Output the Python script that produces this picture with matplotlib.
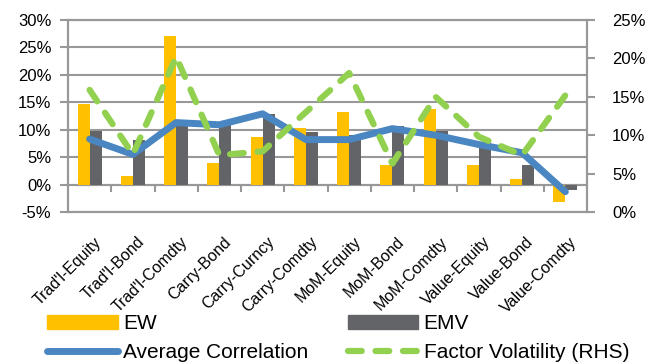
import matplotlib
matplotlib.use('Agg')
import numpy as np
import matplotlib.pyplot as plt
import matplotlib.transforms as mtransforms
from matplotlib.lines import Line2D
from matplotlib.patches import Patch
from matplotlib.ticker import FuncFormatter

plt.rcParams['font.family'] = ['Liberation Sans', 'DejaVu Sans']

categories = ["Trad'l-Equity", "Trad'l-Bond", "Trad'l-Comdty", "Carry-Bond", "Carry-Curncy",
              "Carry-Comdty", "MoM-Equity", "MoM-Bond", "MoM-Comdty", "Value-Equity",
              "Value-Bond", "Value-Comdty"]
ew = [14.7, 1.5, 27.1, 4.0, 8.6, 10.4, 13.2, 3.6, 13.8, 3.6, 1.1, -3.1]
emv = [9.8, 8.2, 10.6, 10.9, 12.8, 9.6, 9.0, 10.7, 9.7, 7.8, 3.6, -1.0]
avg_corr = [8.3, 5.5, 11.3, 10.9, 12.9, 8.2, 8.2, 10.2, 9.0, 7.3, 5.8, -1.3]
factor_vol = [15.9, 7.5, 20.2, 7.4, 7.9, 13.0, 18.1, 6.3, 15.0, 9.8, 7.4, 15.2]

GRID = '#989898'
x = np.arange(len(categories))
w = 0.277

fig = plt.figure(figsize=(6.51, 3.64), dpi=100)
ax = fig.add_axes([68 / 651, 1 - 212 / 364, (587 - 68) / 651, 192 / 364])
ax.bar(x - w / 2, ew, width=w, color='#FFC000', zorder=2)
ax.bar(x + w / 2, emv, width=w, color='#636467', zorder=2)
ax.plot(x, avg_corr, color='#4A86C1', lw=5, solid_capstyle='round', solid_joinstyle='round', zorder=3)

ax.set_xlim(-0.5, 11.5)
ax.set_ylim(-5, 30)
ax.set_yticks(np.arange(-5, 31, 5))
ax.yaxis.set_major_formatter(FuncFormatter(lambda v, p: f'{v:.0f}%'))
ax.grid(axis='y', color=GRID, lw=1.5, zorder=0)
ax.set_axisbelow(True)
ax.tick_params(axis='y', length=6, width=1.5, color=GRID, labelsize=12, pad=6)
ax.set_xticks(x)
ax.set_xticklabels(categories, rotation=45, ha='right', va='top', rotation_mode='anchor', fontsize=11.5)
ax.tick_params(axis='x', length=0, pad=16)
shift = mtransforms.ScaledTranslation(4 / 100, 0, fig.dpi_scale_trans)
for lab in ax.get_xticklabels():
    lab.set_transform(lab.get_transform() + shift)
for s in ax.spines.values():
    s.set_color(GRID)
    s.set_linewidth(1.5)

# category axis crossing at 0%
sec = ax.secondary_xaxis(5 / 35)
sec.set_xticks(np.arange(0.5, 11, 1))
sec.set_xticklabels([])
sec.tick_params(length=5, width=1.5, color=GRID, direction='out')
sec.spines['bottom'].set_color(GRID)
sec.spines['bottom'].set_linewidth(1.5)

ax2 = ax.twinx()
ax2.plot(x, factor_vol, color='#92D050', lw=4.5, dashes=(2.2, 2.2), dash_capstyle='round', zorder=4)
ax2.set_ylim(0, 25)
ax2.set_yticks(np.arange(0, 26, 5))
ax2.yaxis.set_major_formatter(FuncFormatter(lambda v, p: f'{v:.0f}%'))
ax2.tick_params(axis='y', length=6, width=1.5, color=GRID, labelsize=12, pad=12)
for s in ax2.spines.values():
    s.set_color(GRID)
    s.set_linewidth(1.5)

handles = [Patch(color='#FFC000'),
           Line2D([], [], color='#4A86C1', lw=5, solid_capstyle='round'),
           Patch(color='#636467'),
           Line2D([], [], color='#92D050', lw=4.5, dashes=(2.2, 2.2), dash_capstyle='round')]
labels = ['EW', 'Average Correlation', 'EMV', 'Factor Volatility (RHS)']
fig.legend(handles, labels, ncol=2, loc='lower left', bbox_to_anchor=(0.043, -0.045),
           frameon=False, fontsize=15, handlelength=3.4, handleheight=0.6,
           handletextpad=0.25, columnspacing=1.9, labelspacing=0.45)

fig.savefig('out.png', dpi=100)
